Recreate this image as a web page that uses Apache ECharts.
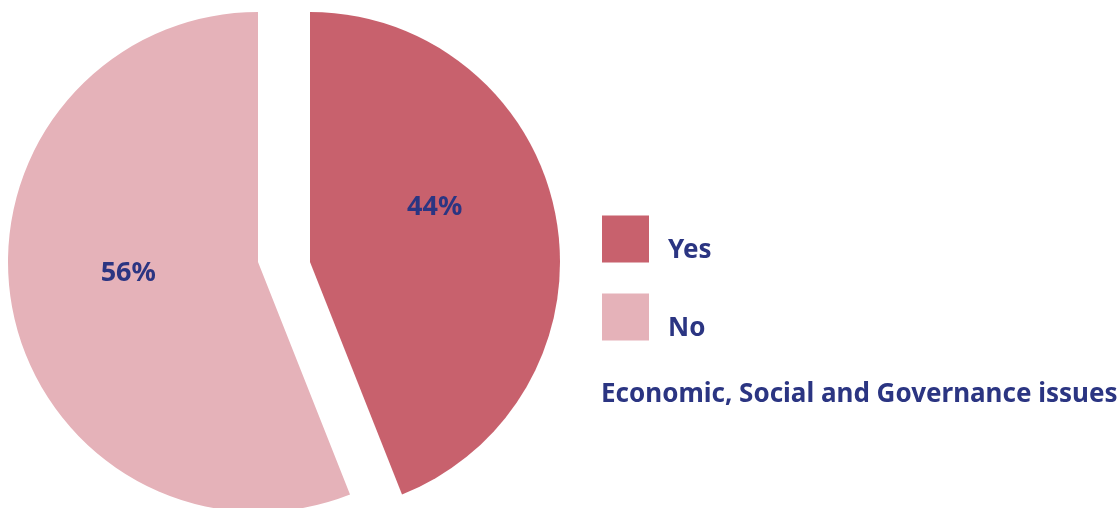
<!DOCTYPE html>
<html>
<head>
<meta charset="utf-8">
<title>Economic, Social and Governance issues</title>
<script src="https://cdn.jsdelivr.net/npm/echarts@6/dist/echarts.min.js"></script>
<style>
  html, body { margin: 0; padding: 0; background: #ffffff; }
  #chart { width: 1120px; height: 508px; }
</style>
</head>
<body>
<div id="chart"></div>
<script>
// Survey answers and their shares (percent)
const categories = ['Yes', 'No'];
const shares = [44, 56];
const sliceColors = ['#c8616d', '#e5b2b9'];
const chartTitle = 'Economic, Social and Governance issues';

const NAVY = '#2b3582';
const FONT = '"Noto Sans", "Open Sans", sans-serif';

// Each answer gets its own pie layer, pulled apart sideways so a
// straight white gap separates the two slices.
const sliceCenters = [[310, 262], [258, 262]];
// Nudges for the in-slice percentage labels
const labelNudge = [{ dx: -1, dy: -31 }, { dx: -4, dy: -13 }];

function sliceLayer(shown) {
  return {
    type: 'pie',
    name: categories[shown],
    center: sliceCenters[shown],
    radius: [0, 250],
    startAngle: 90,
    clockwise: true,
    avoidLabelOverlap: false,
    emphasis: { disabled: true },
    labelLine: { show: false },
    labelLayout: function (p) {
      return p.dataIndex === shown ? labelNudge[shown] : {};
    },
    data: categories.map(function (name, i) {
      const visible = i === shown;
      return {
        name: name,
        value: shares[i],
        itemStyle: { color: visible ? sliceColors[i] : 'rgba(0,0,0,0)' },
        label: {
          show: visible,
          position: 'inside',
          formatter: '{c}%',
          color: NAVY,
          fontFamily: FONT,
          fontWeight: 'bold',
          fontSize: 27
        }
      };
    })
  };
}

const chart = echarts.init(document.getElementById('chart'), null, { renderer: 'canvas' });

chart.setOption({
  animation: false,
  backgroundColor: '#ffffff',
  title: {
    text: chartTitle,
    left: 601,
    top: 382,
    padding: 0,
    textStyle: { color: NAVY, fontFamily: FONT, fontWeight: 'bold', fontSize: 26 }
  },
  legend: {
    orient: 'vertical',
    left: 602,
    top: 214,
    padding: 0,
    icon: 'rect',
    itemWidth: 47,
    itemHeight: 47,
    itemGap: 28,
    selectedMode: false,
    data: categories.map(function (name, i) {
      return { name: name, itemStyle: { color: sliceColors[i] } };
    }),
    // blank first line drops the word toward the foot of its swatch
    formatter: function (name) { return '\n' + name; },
    textStyle: {
      color: NAVY,
      fontFamily: FONT,
      fontWeight: 'bold',
      fontSize: 26,
      lineHeight: 24,
      padding: [0, 0, 0, 14]
    }
  },
  series: [sliceLayer(0), sliceLayer(1)]
});
</script>
</body>
</html>
